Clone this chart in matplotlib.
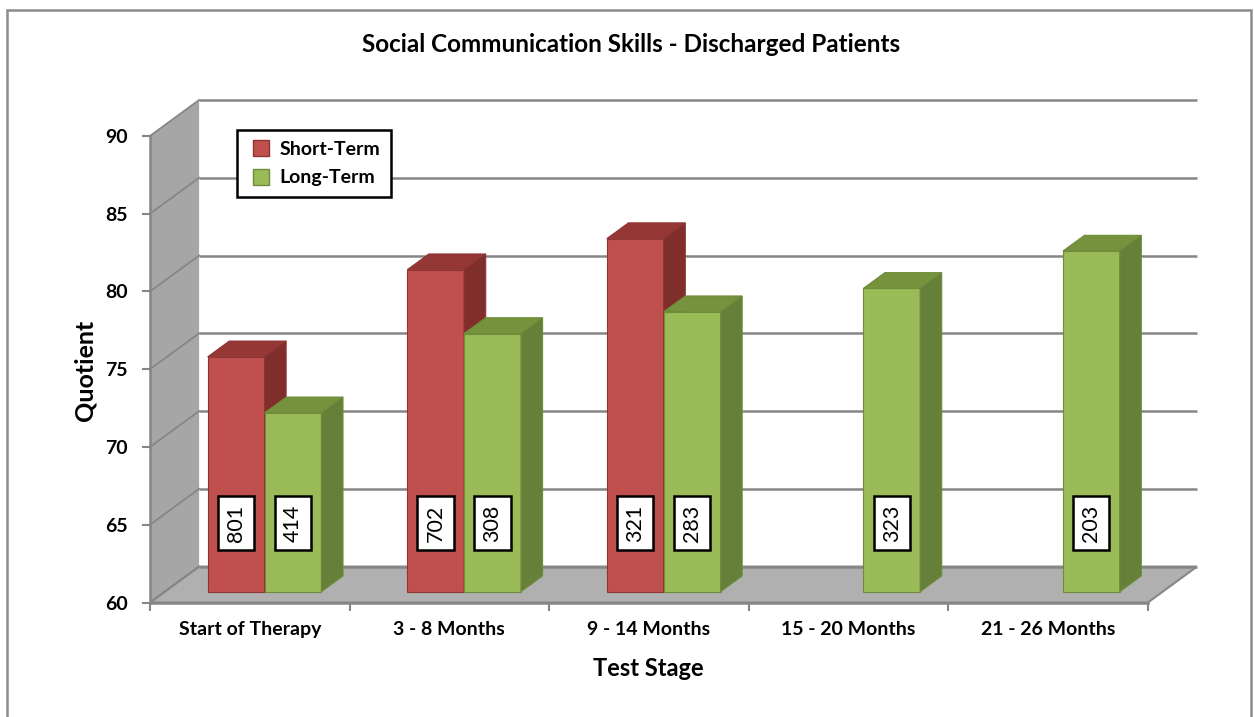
import matplotlib.pyplot as plt
from matplotlib.patches import Polygon, Rectangle
from matplotlib.lines import Line2D

plt.rcParams["font.family"] = ["Lato", "DejaVu Sans"]

stages = ["Start of Therapy", "3 - 8 Months", "9 - 14 Months", "15 - 20 Months", "21 - 26 Months"]
short_term = [75.1, 80.7, 82.7, None, None]
long_term = [71.5, 76.6, 78.0, 79.5, 81.9]
short_n = ["801", "702", "321", None, None]
long_n = ["414", "308", "283", "323", "203"]

# fake 3d: full depth of the floor and the bars, in data units
DX, DY = 0.246, 2.31
T0, TB = 0.30, 0.44
BW = 0.285
YMIN, YMAX = 60, 90
GRID = "#868686"

RED = ("#C0504D", "#953735", "#7F2E2C", "#8E3432")
GREEN = ("#9BBB59", "#76923C", "#66803A", "#6F8C3A")

fig = plt.figure(figsize=(12.54, 7.17), dpi=100)
ax = fig.add_axes([150 / 1254, 1 - 602.5 / 717, 1047 / 1254, 502.5 / 717])
ax.set_xlim(0, len(stages) + DX)
ax.set_ylim(YMIN, YMAX + DY)
ax.patch.set_alpha(0)

# left wall and floor
ax.add_patch(Polygon([(0, YMIN), (DX, YMIN + DY), (DX, YMAX + DY), (0, YMAX)],
                     closed=True, fc="#a6a6a6", ec="none", zorder=1))
ax.add_patch(Polygon([(0, YMIN), (len(stages), YMIN), (len(stages) + DX, YMIN + DY), (DX, YMIN + DY)],
                     closed=True, fc="#b0b0b0", ec=GRID, lw=1.5, zorder=1))

# gridlines on the back wall and the left wall
for v in range(YMIN, YMAX + 1, 5):
    ax.plot([DX, len(stages) + DX], [v + DY, v + DY], color=GRID, lw=1.8, zorder=1.5,
            clip_on=False, solid_capstyle="butt")
    ax.plot([0, DX], [v, v + DY], color=GRID, lw=1.3, zorder=1.5, clip_on=False)


def draw_bar(x, value, colors, z):
    front, top, side, edge = colors
    b0 = YMIN + T0 * DY
    h = value - YMIN
    ax.bar(x + T0 * DX, h, width=BW, bottom=b0, align="edge",
           color=front, edgecolor=edge, linewidth=0.8, zorder=z)
    xl = x + T0 * DX
    xr = xl + BW
    yt = b0 + h
    dx, dy = TB * DX, TB * DY
    ax.add_patch(Polygon([(xl, yt), (xr, yt), (xr + dx, yt + dy), (xl + dx, yt + dy)],
                         closed=True, fc=top, ec=edge, lw=0.8, zorder=z))
    ax.add_patch(Polygon([(xr, b0), (xr + dx, b0 + dy), (xr + dx, yt + dy), (xr, yt)],
                         closed=True, fc=side, ec=edge, lw=0.8, zorder=z))


z = 3
for i in range(len(stages)):
    if short_term[i] is not None:
        draw_bar(i + 0.5 - BW, short_term[i], RED, z)
        z += 1
    if long_term[i] is not None:
        draw_bar(i + 0.5, long_term[i], GREEN, z)
        z += 1

# sample sizes in boxes
label_y = 65.1
for i in range(len(stages)):
    for off, lab in ((-BW / 2, short_n[i]), (BW / 2, long_n[i])):
        if lab is None:
            continue
        ax.text(i + 0.5 + off + T0 * DX, label_y, lab, rotation=90, ha="center", va="center",
                fontsize=15.5, zorder=20,
                bbox=dict(boxstyle="square,pad=0.38", fc="white", ec="black", lw=1.8))

# axes
for s in ("top", "right"):
    ax.spines[s].set_visible(False)
ax.spines["left"].set_bounds(YMIN, YMAX)
ax.spines["bottom"].set_bounds(0, len(stages))
for s in ("left", "bottom"):
    ax.spines[s].set_color(GRID)
    ax.spines[s].set_linewidth(1.8)
    ax.spines[s].set_zorder(2)

ax.set_yticks(range(YMIN, YMAX + 1, 5))
ax.set_yticklabels([str(v) for v in range(YMIN, YMAX + 1, 5)], fontsize=14, fontweight="bold")
ax.tick_params(axis="y", length=6, width=1.5, color=GRID, pad=10)
ax.set_xticks(range(len(stages) + 1))
ax.set_xticklabels([])
ax.tick_params(axis="x", which="major", length=6, width=1.5, color=GRID)
ax.set_xticks([i + 0.5 for i in range(len(stages))], minor=True)
ax.set_xticklabels(stages, minor=True, fontsize=14, fontweight="bold")
ax.tick_params(axis="x", which="minor", length=0, pad=13)

# legend
handles = [Line2D([], [], marker="s", ls="none", markersize=11, markerfacecolor=RED[0],
                  markeredgecolor=RED[3], label="Short-Term"),
           Line2D([], [], marker="s", ls="none", markersize=11, markerfacecolor=GREEN[0],
                  markeredgecolor=GREEN[3], label="Long-Term")]
leg = ax.legend(handles=handles, loc="upper left", bbox_to_anchor=(237 / 1254, 1 - 130 / 717),
                bbox_transform=fig.transFigure, borderaxespad=0, fancybox=False,
                edgecolor="black", framealpha=1, handlelength=1.4, handletextpad=0.25,
                labelspacing=0.6, borderpad=0.55, prop={"weight": "bold", "size": 14})
leg.get_frame().set_linewidth(1.8)
leg.set_zorder(30)

fig.text(631 / 1254, 1 - 45 / 717, "Social Communication Skills - Discharged Patients",
         ha="center", va="center", fontsize=17.5, fontweight="bold")
fig.text(85 / 1254, 1 - 370 / 717, "Quotient", rotation=90, ha="center", va="center",
         fontsize=18, fontweight="bold")
fig.text(648 / 1254, 1 - 668 / 717, "Test Stage", ha="center", va="center",
         fontsize=17, fontweight="bold")

# chart border
fig.patches.append(Rectangle((7 / 1254, -0.01), 1244 / 1254, 1.003 - 5 / 717,
                             transform=fig.transFigure, fill=False, ec="#8c8c8c", lw=1.8))

fig.savefig("out.png", dpi=100)
